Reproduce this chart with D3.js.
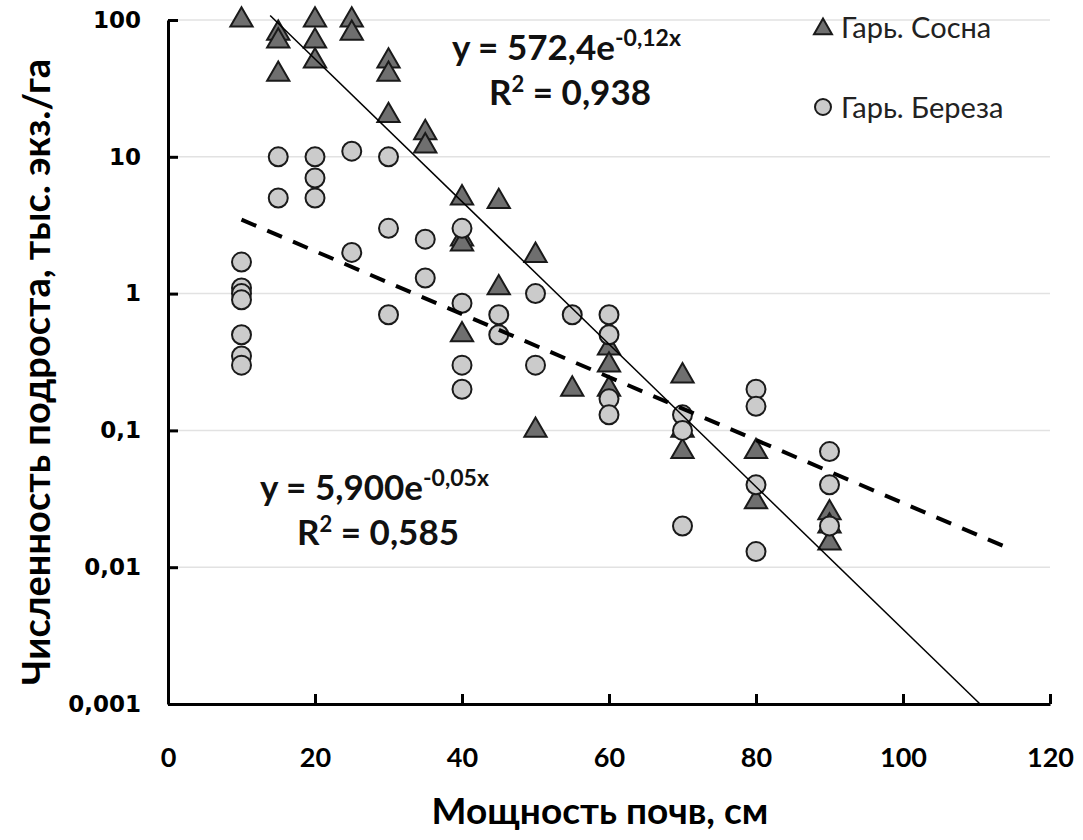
<!DOCTYPE html>
<html>
<head>
<meta charset="utf-8">
<script src="https://cdn.jsdelivr.net/npm/d3@7"></script>
<style>
body { margin: 0; background: #fff; }
</style>
</head>
<body>
<svg width="1083" height="840"></svg>
<script>
// pine (triangles)
var pineX = [10, 15, 15, 15, 20, 20, 20, 25, 25, 30, 30, 30, 35, 35, 40, 40, 40, 40, 45, 45, 50, 50, 55, 60, 60, 60, 70, 70, 70, 80, 80, 90, 90, 90];
var pineY = [100, 80, 70, 40, 100, 70, 50, 100, 80, 50, 40, 20, 15, 12, 5, 2.5, 2.3, 0.5, 4.7, 1.1, 1.9, 0.1, 0.2, 0.4, 0.3, 0.2, 0.25, 0.1, 0.07, 0.07, 0.03, 0.025, 0.02, 0.015];
// birch (circles)
var birchX = [10, 10, 10, 10, 10, 10, 10, 15, 15, 20, 20, 20, 25, 25, 30, 30, 30, 35, 35, 40, 40, 40, 40, 45, 45, 50, 50, 55, 60, 60, 60, 60, 70, 70, 70, 80, 80, 80, 80, 90, 90, 90];
var birchY = [1.7, 1.1, 1.0, 0.9, 0.5, 0.35, 0.3, 10, 5, 10, 7, 5, 11, 2, 10, 3, 0.7, 2.5, 1.3, 3, 0.85, 0.3, 0.2, 0.7, 0.5, 1.0, 0.3, 0.7, 0.7, 0.5, 0.17, 0.13, 0.13, 0.1, 0.02, 0.2, 0.15, 0.04, 0.013, 0.07, 0.04, 0.02];

// trend lines y = a*e^(-b*x)
var pineTrend = [572.4, 0.12];
var birchTrend = [5.9, 0.053];
var birchTrendX = [10, 115];

var xTicks = [0, 20, 40, 60, 80, 100, 120];
var yTicks = [0.001, 0.01, 0.1, 1, 10, 100];
var yTickLabels = ["0,001", "0,01", "0,1", "1", "10", "100"];

var svg = d3.select("svg");

var x = d3.scaleLinear().domain([0, 120]).range([168, 1050]);
var y = d3.scaleLog().domain([0.001, 100]).range([704, 20]);

// grid
svg.append("g").selectAll("line")
    .data(yTicks)
    .enter()
    .append("line")
    .attr("x1", 168)
    .attr("x2", 1050)
    .attr("y1", function(d) { return y(d); })
    .attr("y2", function(d) { return y(d); })
    .attr("stroke", "#e2e2e2")
    .attr("stroke-width", 1.5);

// axes
var xAxis = svg.append("g")
    .attr("transform", "translate(0,704)")
    .call(d3.axisBottom(x).tickValues(xTicks).tickSize(-10).tickSizeOuter(0).tickPadding(44));
xAxis.selectAll("text")
    .attr("font-family", "Lato, 'Open Sans', sans-serif")
    .attr("font-weight", "bold")
    .attr("font-size", 27)
    .attr("fill", "#000");

var yAxis = svg.append("g")
    .attr("transform", "translate(168,0)")
    .call(d3.axisLeft(y).tickValues(yTicks).tickSize(-10).tickSizeOuter(0).tickPadding(27)
        .tickFormat(function(d, i) { return yTickLabels[i]; }));
yAxis.selectAll("text")
    .attr("font-family", "'DejaVu Sans', sans-serif")
    .attr("font-weight", "bold")
    .attr("font-size", 23)
    .attr("fill", "#000");

svg.selectAll(".domain, .tick line")
    .attr("stroke", "#000")
    .attr("stroke-width", 3);

// points
svg.append("g").selectAll("path")
    .data(pineX)
    .enter()
    .append("path")
    .attr("d", d3.symbol().type(d3.symbolTriangle).size(215))
    .attr("transform", function(d, i) { return "translate(" + x(d) + "," + y(pineY[i]) + ")"; })
    .attr("fill", "#6f6f6f")
    .attr("stroke", "#1a1a1a")
    .attr("stroke-width", 2);

svg.append("g").selectAll("circle")
    .data(birchX)
    .enter()
    .append("circle")
    .attr("cx", function(d) { return x(d); })
    .attr("cy", function(d, i) { return y(birchY[i]); })
    .attr("r", 9.5)
    .attr("fill", "#cbcbcb")
    .attr("stroke", "#1a1a1a")
    .attr("stroke-width", 2);

// trend lines
var line = d3.line()
    .x(function(d) { return x(d[0]); })
    .y(function(d) { return y(d[1]); });

function trend(t, xs) {
    return xs.map(function(v) { return [v, t[0] * Math.exp(-t[1] * v)]; });
}

var pineStart = Math.log(pineTrend[0] / 108) / pineTrend[1];
var pineEnd = Math.log(pineTrend[0] / 0.001) / pineTrend[1];

svg.append("path")
    .attr("d", line(trend(pineTrend, [pineStart, pineEnd])))
    .attr("fill", "none")
    .attr("stroke", "#000")
    .attr("stroke-width", 1.5);

svg.append("path")
    .attr("d", line(trend(birchTrend, birchTrendX)))
    .attr("fill", "none")
    .attr("stroke", "#000")
    .attr("stroke-width", 4)
    .attr("stroke-dasharray", "16,12");

// equations
function equation(xp, yp, main, sup, r2) {
    var t = svg.append("text")
        .attr("x", xp)
        .attr("y", yp)
        .attr("font-family", "Lato, 'Open Sans', sans-serif")
        .attr("font-weight", "bold")
        .attr("font-size", 35)
        .attr("fill", "#111");
    t.append("tspan").text(main);
    t.append("tspan").attr("font-size", 23).attr("dy", -14).text(sup);

    var r = svg.append("text")
        .attr("x", xp + 37)
        .attr("y", yp + 45)
        .attr("font-family", "Lato, 'Open Sans', sans-serif")
        .attr("font-weight", "bold")
        .attr("font-size", 35)
        .attr("fill", "#111");
    r.append("tspan").text("R");
    r.append("tspan").attr("font-size", 22).attr("dy", -13).text("2");
    r.append("tspan").attr("dy", 13).text(" = " + r2);
}

equation(452, 60, "y = 572,4e", "-0,12x", "0,938");
equation(260, 500, "y = 5,900e", "-0,05x", "0,585");

// legend
svg.append("path")
    .attr("d", d3.symbol().type(d3.symbolTriangle).size(140))
    .attr("transform", "translate(823,29)")
    .attr("fill", "#6f6f6f")
    .attr("stroke", "#1a1a1a")
    .attr("stroke-width", 2);
svg.append("circle")
    .attr("cx", 823)
    .attr("cy", 107)
    .attr("r", 8)
    .attr("fill", "#cbcbcb")
    .attr("stroke", "#1a1a1a")
    .attr("stroke-width", 2);

svg.selectAll(".legend")
    .data(["Гарь. Сосна", "Гарь. Береза"])
    .enter()
    .append("text")
    .attr("x", 841)
    .attr("y", function(d, i) { return 38 + i * 80; })
    .attr("font-family", "Lato, 'Open Sans', sans-serif")
    .attr("font-size", 29)
    .attr("fill", "#222")
    .text(function(d) { return d; });

// axis titles
svg.append("text")
    .attr("x", 600)
    .attr("y", 824)
    .attr("text-anchor", "middle")
    .attr("font-family", "Lato, 'Open Sans', sans-serif")
    .attr("font-weight", "bold")
    .attr("font-size", 37)
    .attr("fill", "#000")
    .text("Мощность почв, см");

svg.append("text")
    .attr("transform", "translate(50,372) rotate(-90)")
    .attr("text-anchor", "middle")
    .attr("font-family", "Lato, 'Open Sans', sans-serif")
    .attr("font-weight", "bold")
    .attr("font-size", 38)
    .attr("fill", "#000")
    .text("Численность подроста, тыс. экз./га");
</script>
</body>
</html>
